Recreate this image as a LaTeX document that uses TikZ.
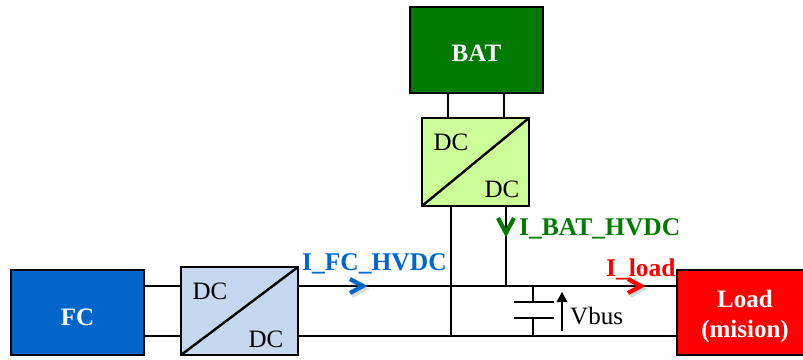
\documentclass[tikz,border=0pt]{standalone}
\usepackage{fontspec}
\setmainfont{Liberation Serif}
\definecolor{fcblue}{RGB}{0,102,204}
\definecolor{batgreen}{RGB}{0,122,0}
\definecolor{dcblue}{RGB}{198,215,240}
\definecolor{dcgreen}{RGB}{204,255,153}
\definecolor{loadred}{RGB}{255,0,0}
\tikzset{
  x=1pt,y=-1pt,
  block/.style={draw=black,line width=2.8pt,inner sep=0pt,outer sep=0pt,text=white,font=\fontsize{25}{30}\selectfont\bfseries,align=center},
  conv/.style={draw=black,line width=2.6pt,inner sep=0pt,outer sep=0pt},
  wire/.style={draw=black,line width=2.4pt},
  dclabel/.style={inner sep=0pt,font=\fontsize{25}{28}\selectfont},
  curlabel/.style={inner sep=0pt,font=\fontsize{25.5}{28}\selectfont\bfseries},
  chevron/.style={line width=4.2pt,line join=miter},
  chevshadow/.style={line width=4pt,draw=gray,opacity=0.3,line join=miter},
}
\begin{document}
\begin{tikzpicture}
\useasboundingbox (0,0) rectangle (803,359);
\coordinate (busL) at (298,286);
\coordinate (busR) at (677,286);
\coordinate (retL) at (298,336);
\coordinate (retR) at (677,336);
\coordinate (j1) at (451,286);
\coordinate (j2) at (451,336);
\coordinate (j3) at (506,286);
\coordinate (capT) at (533,286);
\coordinate (capB) at (533,336);
\coordinate (plA) at (533,302);
\coordinate (plB) at (533,318);
\coordinate (plAl) at (514,302);
\coordinate (plAr) at (554,302);
\coordinate (plBl) at (514,318);
\coordinate (plBr) at (554,318);
\coordinate (vT) at (562,293);
\coordinate (vB) at (562,331);
% blocks
\node[block,fill=fcblue,minimum width=133pt,minimum height=85pt,anchor=north west,text height=26pt,text depth=0pt] (fc) at (11,270) {FC};
\node[block,fill=batgreen,minimum width=133pt,minimum height=86pt,anchor=north west,text height=22pt,text depth=0pt] (bat) at (410,7) {BAT};
\node[block,fill=loadred,minimum width=136pt,minimum height=85pt,anchor=north west] (load) at (677,270) {\rule{0pt}{25pt}Load\\(mision)};
\node[conv,fill=dcblue,minimum width=117pt,minimum height=88pt,anchor=north west] (dca) at (181,267) {};
\node[conv,fill=dcgreen,minimum width=107pt,minimum height=88pt,anchor=north west] (dcb) at (422,118) {};
\draw[wire] (dca.south west) -- (dca.north east);
\draw[wire] (dcb.south west) -- (dcb.north east);
\node[dclabel] (a1) at (210,291) {DC};
\node[dclabel] (a2) at (266,339) {DC};
\node[dclabel] (b1) at (451,142) {DC};
\node[dclabel] (b2) at (502,189) {DC};
% connections
\draw[wire] (fc.east |- busL) -- (dca.west |- busL);
\draw[wire] (fc.east |- retL) -- (dca.west |- retL);
\draw[wire] (dca.east |- busL) -- (load.west |- busR);
\draw[wire] (dca.east |- retL) -- (load.west |- retR);
\draw[wire] (448,93) -- (448,118);
\draw[wire] (504,93) -- (504,118);
\draw[wire] (j1 |- dcb.south) -- (j2);
\draw[wire] (j3 |- dcb.south) -- (j3);
% capacitor
\draw[wire] (capT) -- (plA);
\draw[wire] (plB) -- (capB);
\draw[wire] (plAl) -- (plAr);
\draw[wire] (plBl) -- (plBr);
\draw[line width=2pt] (vB) -- (vT);
\fill (vT) ++(0,-1) -- ++(5.5,10) -- ++(-11,0) -- cycle;
\node[dclabel,anchor=west] (vbus) at (570,316) {Vbus};
% current chevrons
\draw[chevshadow] (352,282) -- (365,289) -- (352,296);
\draw[chevshadow] (630,282) -- (643,289) -- (630,296);
\draw[chevron,draw=batgreen] (498,218) -- (506,233) -- (514,218);
\draw[chevron,draw=fcblue] (350,279) -- (363,286) -- (350,293);
\draw[chevron,draw=loadred] (628,279) -- (641,286) -- (628,293);
\draw[line width=1.5pt,draw=loadred] (616,278.5) -- (629,278.5);
% current labels
\node[curlabel,text=batgreen,anchor=west] (ibat) at (519,228.5) {I\_BAT\_HVDC};
\node[curlabel,text=fcblue,anchor=west] (ifc) at (302,263.5) {I\_FC\_HVDC};
\node[curlabel,text=loadred,anchor=west] (iload) at (606,269) {I\_load};
\end{tikzpicture}
\end{document}
